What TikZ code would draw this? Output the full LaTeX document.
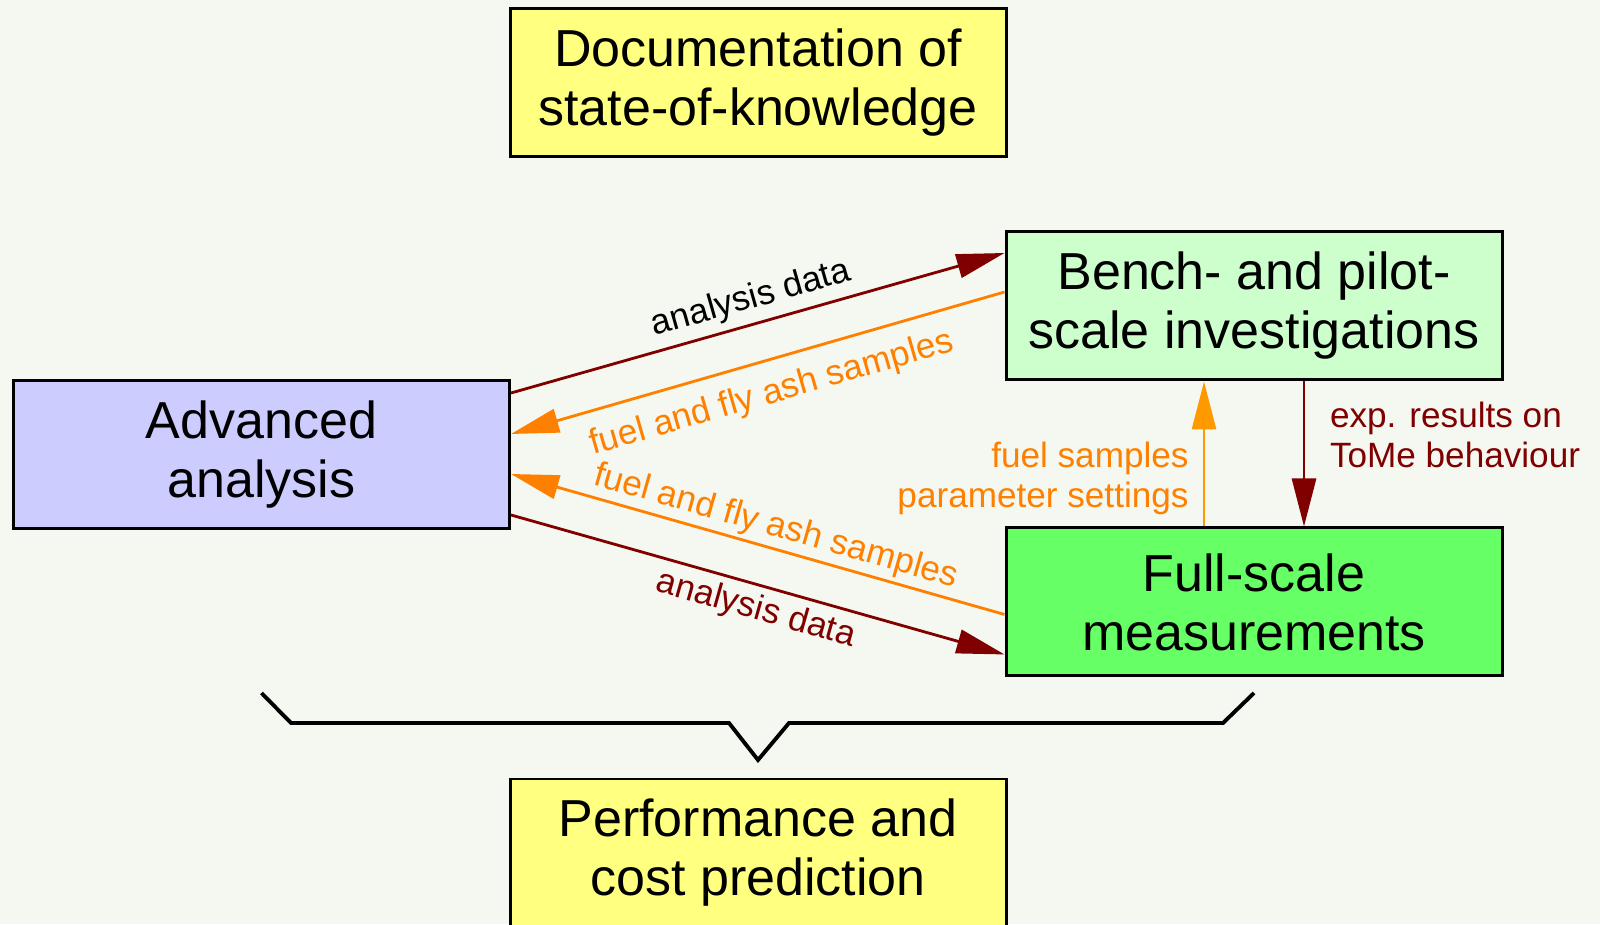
\documentclass[tikz,border=0pt]{standalone}
\usepackage{fontspec}
\setmainfont{Liberation Sans}
\usepackage{tikz}
\usetikzlibrary{calc, positioning, arrows.meta}
\usepackage{xcolor}

\definecolor{bgcol}{HTML}{F4F8F0}
\definecolor{docyellow}{HTML}{FFFF80}
\definecolor{benchgreen}{HTML}{CCFFCC}
\definecolor{advblue}{HTML}{CCCCFF}
\definecolor{fullgreen}{HTML}{66FF66}
\definecolor{darkred}{HTML}{800000}
\definecolor{fuelorange}{HTML}{FF8000}
\definecolor{sampleorange}{HTML}{FF9900}

\begin{document}
\begin{tikzpicture}[
    box/.style={draw, line width=0.85pt, minimum width=4.96cm, minimum height=1.48cm,
        align=center, font=\fontsize{14.8}{16.8}\selectfont},
    flow/.style={line width=0.8pt, -{Triangle[length=4.8mm, width=2.4mm]}},
    lbl/.style={font=\fontsize{10}{11.4}\selectfont, inner sep=1pt}
]

    % 1. Background, fixes the size of the page
    \fill[bgcol] (0,0) rectangle (16,9.24);
    \useasboundingbox (0,0) rectangle (16,9.24);

    % 2. The five boxes
    \node[box, fill=docyellow] (doc) at (7.58, 8.415) {Documentation of\\state-of-knowledge};
    \node[box, fill=benchgreen] (bench) at (12.54, 6.18) {Bench- and pilot-\\scale investigations};
    \node[box, fill=fullgreen, below=1.45cm of bench] (full) {Full-scale\\measurements};
    \node[box, fill=advblue] (adv) at (2.615, 4.695) {Advanced\\analysis};
    \node[box, fill=docyellow] (perf) at (7.58, 0.71) {Performance and\\cost prediction};

    % 3. Advanced analysis <-> bench-scale
    \draw[flow, darkred] ([yshift=0.615cm]adv.east) -- ([yshift=0.53cm]bench.west)
        node[lbl, pos=0.5, sloped, above=1pt, text=black] {analysis data};
    \draw[flow, fuelorange] ([yshift=0.14cm]bench.west) -- ([yshift=0.205cm]adv.east)
        node[lbl, pos=0.49, sloped, below=3.5pt] {fuel and fly ash samples};

    % 4. Advanced analysis <-> full-scale
    \draw[flow, fuelorange] ([yshift=-0.125cm]full.west) -- ([yshift=-0.195cm]adv.east)
        node[lbl, pos=0.475, sloped, above=0pt] {fuel and fly ash samples};
    \draw[flow, darkred] ([yshift=-0.605cm]adv.east) -- ([yshift=-0.525cm]full.west)
        node[lbl, pos=0.51, sloped, below=1pt] {analysis data};

    % 5. Full-scale <-> bench-scale
    \draw[flow, sampleorange] ([xshift=-0.5cm]full.north) -- ([xshift=-0.5cm]bench.south)
        node[lbl, pos=0.33, left=3pt, align=right, text=fuelorange] {fuel samples\\parameter settings};
    \draw[flow, darkred] ([xshift=0.5cm]bench.south) -- ([xshift=0.5cm]full.north)
        node[lbl, pos=0.37, right=6pt, align=left] {exp. results on\\ToMe behaviour};

    % 6. Brace over the three investigations, pointing to the prediction
    \draw[line width=1.1pt] (adv.center |- 0,2.31) -- (2.91,2.01) -- (7.29,2.01)
        -- (perf.center |- 0,1.64) -- (7.89,2.01) -- (12.23,2.01) -- (full.center |- 0,2.31);

\end{tikzpicture}
\end{document}
